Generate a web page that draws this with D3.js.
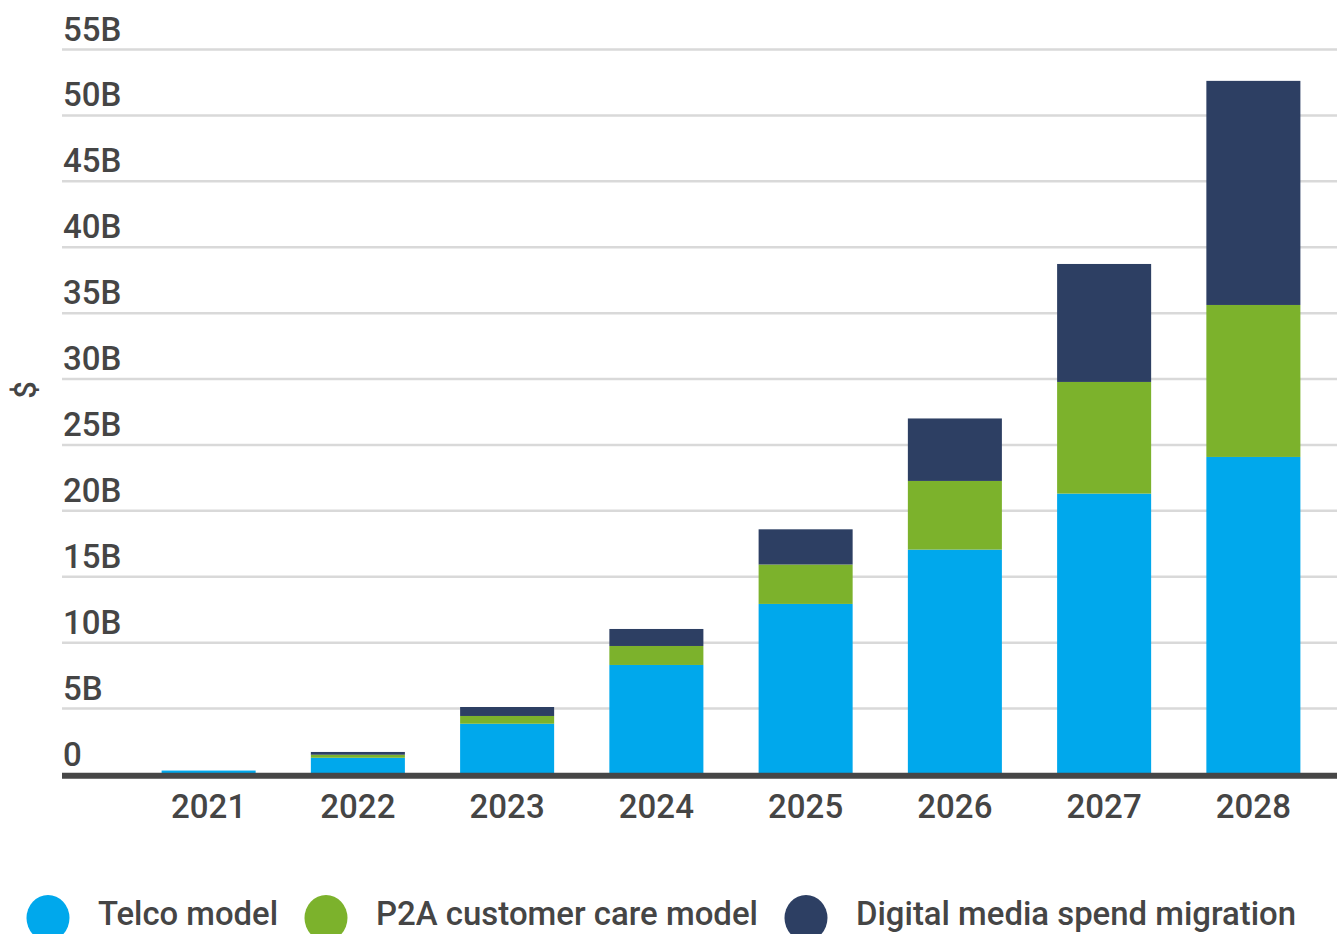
<!DOCTYPE html>
<html>
<head>
<meta charset="utf-8">
<script src="https://cdn.jsdelivr.net/npm/d3@7"></script>
<style>
  html, body { margin: 0; padding: 0; background: #fff; }
  svg { display: block; font-family: Roboto, "Noto Sans", sans-serif; font-weight: 500; }
</style>
</head>
<body>
<svg id="chart" width="1341" height="934"></svg>
<script>
const years = ["2021", "2022", "2023", "2024", "2025", "2026", "2027", "2028"];
const telco = [0.3, 1.27, 3.85, 8.31, 12.94, 17.06, 21.31, 24.09];
const p2a = [0.0, 0.23, 0.59, 1.44, 2.99, 5.21, 8.47, 11.53];
const digital = [0.0, 0.21, 0.68, 1.29, 2.67, 4.74, 8.95, 17.0];
const seriesNames = ["Telco model", "P2A customer care model", "Digital media spend migration"];
const seriesColors = ["#00a8ec", "#7cb22c", "#2d3f63"];
const yTicks = [0, 5, 10, 15, 20, 25, 30, 35, 40, 45, 50, 55];
const yTickLabels = ["0", "5B", "10B", "15B", "20B", "25B", "30B", "35B", "40B", "45B", "50B", "55B"];

const svg = d3.select("#chart");
const x = d3.scaleBand().domain(years).range([134, 1328]).paddingInner(0.37).paddingOuter(0.185);
const y = d3.scaleLinear().domain([0, 55]).range([774.5, 49.5]);
const left = 62, right = 1337;
const textColor = "#454545";

// gridlines
svg.append("g").selectAll("line").data(yTicks.filter(d => d > 0)).join("line")
  .attr("x1", left).attr("x2", right)
  .attr("y1", d => y(d)).attr("y2", d => y(d))
  .attr("stroke", "#d9d9d9").attr("stroke-width", 2.5);

// y labels
svg.append("g").selectAll("text").data(yTicks).join("text")
  .attr("x", 63).attr("y", d => y(d) - 9)
  .attr("font-size", 33).attr("fill", textColor)
  .text((d, i) => yTickLabels[i]);

// y title
svg.append("text")
  .attr("transform", "translate(36,390) rotate(-90)")
  .attr("text-anchor", "middle")
  .attr("font-size", 31).attr("fill", textColor)
  .text("$");

// stacked bars
const rows = years.map((yr, i) => ({ year: yr, telco: telco[i], p2a: p2a[i], digital: digital[i] }));
const stack = d3.stack().keys(["telco", "p2a", "digital"]);
const layers = stack(rows);
svg.append("g").selectAll("g").data(layers).join("g")
  .attr("fill", (d, i) => seriesColors[i])
  .selectAll("rect").data(d => d).join("rect")
  .attr("x", d => x(d.data.year))
  .attr("width", x.bandwidth())
  .attr("y", d => y(d[1]))
  .attr("height", d => Math.max(0, y(d[0]) - y(d[1])));

// baseline axis
svg.append("line")
  .attr("x1", left).attr("x2", right)
  .attr("y1", y(0) + 1.2).attr("y2", y(0) + 1.2)
  .attr("stroke", "#464646").attr("stroke-width", 6);

// x labels
svg.append("g").selectAll("text").data(years).join("text")
  .attr("x", d => x(d) + x.bandwidth() / 2)
  .attr("y", 818)
  .attr("text-anchor", "middle")
  .attr("font-size", 33).attr("fill", textColor)
  .text(d => d);

// legend
const legendX = [48, 326, 806];
const legend = svg.append("g").selectAll("g").data(seriesNames).join("g")
  .attr("transform", (d, i) => `translate(${legendX[i]},0)`);
legend.append("ellipse")
  .attr("cx", 0).attr("cy", 918).attr("rx", 21.5).attr("ry", 23)
  .attr("fill", (d, i) => seriesColors[i]);
legend.append("text")
  .attr("x", 50).attr("y", 925)
  .attr("font-size", 33).attr("fill", textColor)
  .attr("textLength", (d, i) => [180, 382, 440][i])
  .attr("lengthAdjust", "spacingAndGlyphs")
  .text(d => d);
</script>
</body>
</html>
